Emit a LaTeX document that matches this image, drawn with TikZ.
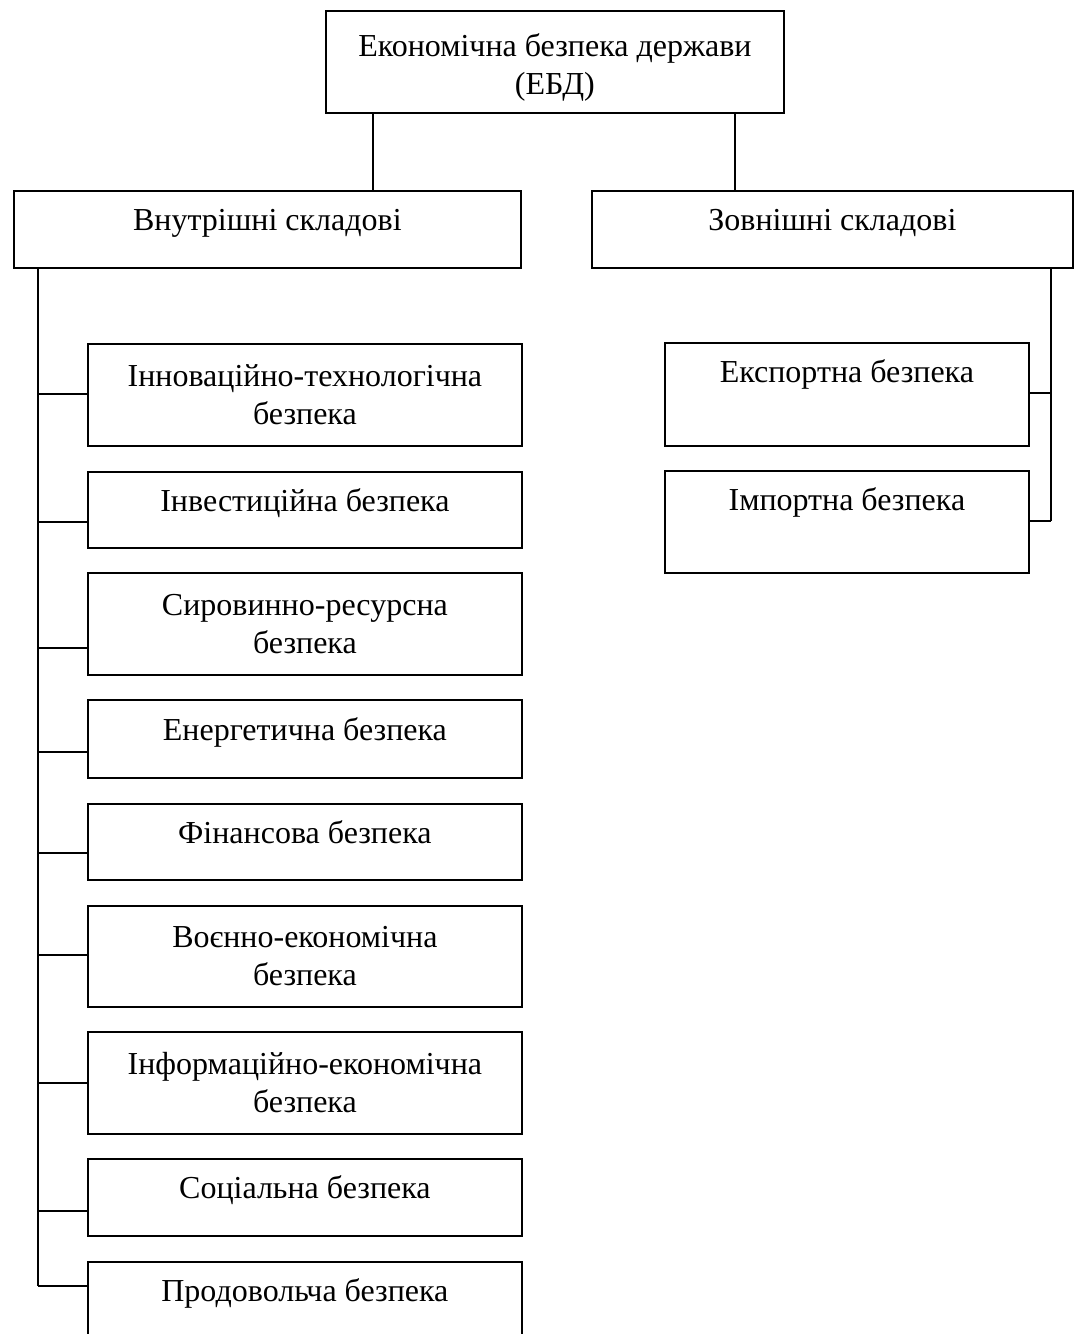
\documentclass[tikz,border=0pt]{standalone}
\usepackage{fontspec}
\setmainfont{Liberation Serif}
\begin{document}
\begin{tikzpicture}
        [x=1pt, y=-1pt,
        box/.style={draw, line width=1.8pt, anchor=north west, inner sep=3pt,
                font=\fontsize{32}{38}\selectfont},
        one/.style={box, text height=22pt, text depth=#1},
        one/.default=19pt,
        two/.style={box, align=center},
        size/.style 2 args={minimum width=#1pt, minimum height=#2pt},
        edge/.style={line width=1.8pt, black}]

        \useasboundingbox (0,0) rectangle (1075,1334);

        % top levels
        \node[two, size={458}{102}] (top) at (325,10) {\rule{0pt}{34pt}Економічна безпека держави\\(ЕБД)};
        \node[one, size={507}{77}] (inner) at (13,190) {Внутрішні складові};
        \node[one, size={481}{77}] (outer) at (591,190) {Зовнішні складові};

        % inner components
        \node[two, size={434}{102}] (i1) at (87,343) {Інноваційно-технологічна\\безпека};
        \node[one, size={434}{76}] (i2) at (87,471) {Інвестиційна безпека};
        \node[two, size={434}{102}] (i3) at (87,572) {Сировинно-ресурсна\\безпека};
        \node[one, size={434}{78}] (i4) at (87,699) {Енергетична безпека};
        \node[one, size={434}{76}] (i5) at (87,803) {Фінансова безпека};
        \node[two, size={434}{101}] (i6) at (87,905) {Воєнно-економічна\\безпека};
        \node[two, size={434}{102}] (i7) at (87,1031) {Інформаційно-економічна\\безпека};
        \node[one, size={434}{77}] (i8) at (87,1158) {Соціальна безпека};
        \node[one, size={434}{77}] (i9) at (87,1261) {Продовольча безпека};

        % outer components
        \node[one=45pt, size={364}{103}] (e1) at (664,342) {Експортна безпека};
        \node[one=44pt, size={364}{102}] (e2) at (664,470) {Імпортна безпека};

        % branch points on the trunks
        \coordinate (l1) at (38,394);
        \coordinate (l2) at (38,522);
        \coordinate (l3) at (38,648);
        \coordinate (l4) at (38,752);
        \coordinate (l5) at (38,853);
        \coordinate (l6) at (38,955);
        \coordinate (l7) at (38,1083);
        \coordinate (l8) at (38,1211);
        \coordinate (l9) at (38,1286);
        \coordinate (r1) at (1051,393);
        \coordinate (r2) at (1051,521);

        % edges from the top box
        \draw[edge] (top.south -| 373,0) -- (inner.north -| 373,0);
        \draw[edge] (top.south -| 735,0) -- (outer.north -| 735,0);

        % left trunk
        \draw[edge] (inner.south -| l1) -- (l9);
        \foreach \k in {1,...,9}
                \draw[edge] (l\k) -- (l\k -| i\k.west);

        % right trunk
        \draw[edge] (outer.south -| r1) -- (r2);
        \foreach \k in {1,2}
                \draw[edge] (r\k) -- (r\k -| e\k.east);

\end{tikzpicture}
\end{document}
